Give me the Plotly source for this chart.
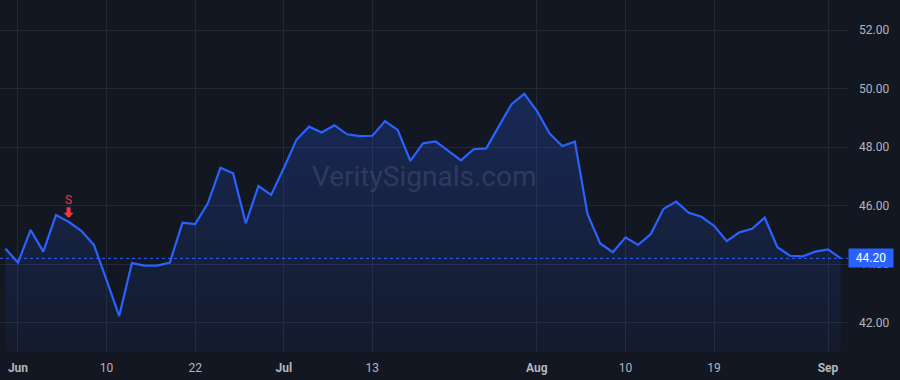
import pandas as pd
import plotly.graph_objects as go

# ---- data ----
holidays = ["2022-06-20", "2022-07-04"]
dates = [d for d in pd.bdate_range("2022-05-31", "2022-09-02") if d.strftime("%Y-%m-%d") not in holidays]

prices = [
    44.54,                                                       # May 31
    44.05, 45.17, 44.43, 45.68, 45.45, 45.14, 44.66, 43.46, 42.23, 44.04,
    43.95, 43.95, 44.06, 45.42, 45.37, 46.08, 47.30, 47.11, 45.40, 46.67,
    46.37,                                                       # June
    47.28, 48.25, 48.70, 48.50, 48.75, 48.44, 48.38, 48.39, 48.89, 48.59,
    47.53, 48.13, 48.20, 47.88, 47.55, 47.93, 47.96, 48.72, 49.47, 49.82,  # July
    49.24, 48.47, 48.04, 48.19, 45.71, 44.71, 44.41, 44.92, 44.66, 45.03,
    45.89, 46.14, 45.76, 45.62, 45.31, 44.79, 45.09, 45.21, 45.59, 44.58,
    44.29, 44.27, 44.43,                                         # August
    44.51, 44.20,                                                # Sep
]

tick_dates = ["2022-06-01", "2022-06-10", "2022-06-22", "2022-07-01", "2022-07-13",
              "2022-08-01", "2022-08-10", "2022-08-19", "2022-09-01"]
tick_labels = ["<b>Jun</b>", "10", "22", "<b>Jul</b>", "13",
               "<b>Aug</b>", "10", "19", "<b>Sep</b>"]

y_ticks = [42, 44, 46, 48, 50, 52]

signal_date = "2022-06-07"
signal_text = "S"
last_price = prices[-1]
watermark = "VeritySignals.com"

# ---- build ----
date_str = [d.strftime("%Y-%m-%d") for d in dates]
x_idx = list(range(len(dates)))
tick_idx = [date_str.index(d) for d in tick_dates]
sig_idx = date_str.index(signal_date)

BG = "#131722"
GRID = "#242833"
BLUE = "#2962ff"
RED = "#f23645"
TXT = "#b2b5be"

fig = go.Figure()
fig.add_trace(go.Scatter(
    x=x_idx, y=prices, mode="lines",
    line=dict(color=BLUE, width=2.2),
    fill="tozeroy",
    fillgradient=dict(type="vertical",
                      colorscale=[[0, "rgba(41,98,255,0.05)"], [1, "rgba(41,98,255,0.24)"]],
                      start=41, stop=50),
    hoverinfo="skip", showlegend=False,
))

fig.add_shape(type="line", xref="paper", x0=0, x1=1, yref="y", y0=last_price, y1=last_price,
              line=dict(color=BLUE, width=1, dash="dot"), layer="above")

# sell arrow (shaft + head) and its letter
fig.add_annotation(x=sig_idx, y=prices[sig_idx], text="", showarrow=True,
                   ax=0, ay=-16, arrowcolor=RED, arrowwidth=4, arrowhead=1, arrowsize=0.43,
                   standoff=4)
fig.add_annotation(x=sig_idx, y=prices[sig_idx], text=signal_text, showarrow=False,
                   yshift=22, yanchor="middle", xanchor="center",
                   font=dict(color=RED, size=12, family="Roboto"))

fig.add_annotation(xref="paper", x=1, yref="y", y=last_price, text=format(last_price, ".2f"),
                   showarrow=False, xanchor="left", xshift=0,
                   bgcolor=BLUE, font=dict(color="#ffffff", size=12, family="Roboto"),
                   borderpad=2, width=40)

fig.add_annotation(xref="paper", yref="paper", x=0.5, y=0.5, text=watermark, showarrow=False,
                   font=dict(color="rgba(178,181,190,0.18)", size=28, family="Roboto"))

fig.update_layout(
    width=900, height=380,
    margin=dict(l=0, r=52, t=0, b=28),
    paper_bgcolor=BG, plot_bgcolor=BG,
    font=dict(family="Roboto", size=12, color=TXT),
    xaxis=dict(range=[-0.42, 66.58], tickvals=tick_idx, ticktext=tick_labels,
               showgrid=True, gridcolor=GRID, zeroline=False, showline=False,
               ticks="", ticklabelstandoff=7, tickfont=dict(color=TXT, size=12)),
    yaxis=dict(range=[41.0, 53.03], side="right", tickvals=y_ticks,
               tickformat=".2f", showgrid=True, gridcolor=GRID, zeroline=False,
               showline=False, ticks="", ticklabelstandoff=10,
               tickfont=dict(color=TXT, size=12)),
)

fig.write_html("out.html")
